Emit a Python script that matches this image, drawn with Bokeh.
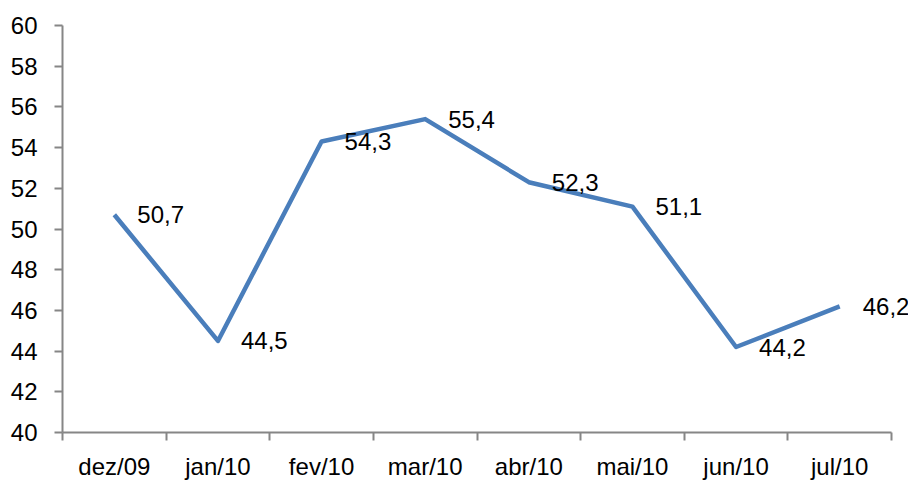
from bokeh.plotting import figure
from bokeh.models import FixedTicker, ColumnDataSource, LabelSet, Range1d
from bokeh.core.properties import value
from bokeh.embed import file_html
from bokeh.resources import INLINE

categories = ["dez/09", "jan/10", "fev/10", "mar/10", "abr/10", "mai/10", "jun/10", "jul/10"]
values = [50.7, 44.5, 54.3, 55.4, 52.3, 51.1, 44.2, 46.2]
y_ticks = list(range(40, 61, 2))

FONT = "Liberation Sans"
FS = "24px"
n = len(categories)
xs = [i + 0.5 for i in range(n)]
labels = [f"{v:.1f}".replace(".", ",") for v in values]
src = ColumnDataSource(dict(x=xs, y=values, label=labels))

p = figure(width=908, height=486, output_backend="svg", toolbar_location=None,
           x_range=Range1d(0, n * 1.0205), y_range=Range1d(40, 60),
           min_border_left=62, min_border_right=0, min_border_top=25, min_border_bottom=54)
p.outline_line_color = None
p.xgrid.visible = False
p.ygrid.visible = False
p.background_fill_color = "white"
p.border_fill_color = "white"

p.line("x", "y", source=src, line_color="#4a7ebb", line_width=4.5, line_join="round")

lbl = LabelSet(x="x", y="y", text="label", source=src, x_offset=23, y_offset=0,
               text_baseline="middle", text_align="left", text_font=value(FONT),
               text_font_size=FS, text_color="#000000")
p.add_layout(lbl)

ax = p.xaxis[0]
ax.bounds = (0, n)
ax.ticker = FixedTicker(ticks=xs, minor_ticks=list(range(n + 1)))
ax.major_label_overrides = {x: c for x, c in zip(xs, categories)}
ax.major_tick_out = 0
ax.major_tick_in = 0
ax.minor_tick_out = 8
ax.minor_tick_in = 0
ax.minor_tick_line_color = "#868686"
ax.minor_tick_line_width = 2
ax.axis_line_color = "#868686"
ax.axis_line_width = 2
ax.major_label_standoff = 12
ax.major_label_text_font = FONT
ax.major_label_text_font_size = FS
ax.major_label_text_color = "#000000"

ay = p.yaxis[0]
ay.ticker = FixedTicker(ticks=y_ticks, minor_ticks=[])
ay.major_tick_out = 8
ay.major_tick_in = 0
ay.major_tick_line_color = "#868686"
ay.major_tick_line_width = 2
ay.axis_line_color = "#868686"
ay.axis_line_width = 2
ay.major_label_standoff = 17
ay.major_label_text_font = FONT
ay.major_label_text_font_size = FS
ay.major_label_text_color = "#000000"

open("out.html", "w").write(file_html(p, INLINE))
